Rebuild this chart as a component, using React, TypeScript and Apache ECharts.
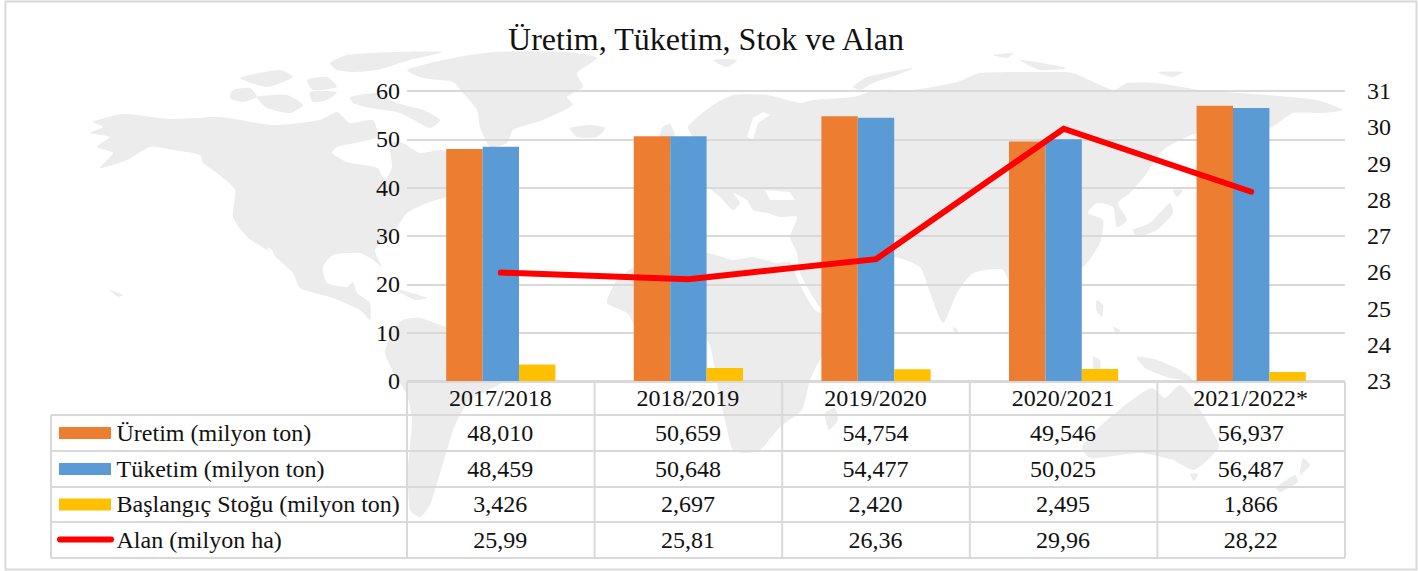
import React, { useEffect, useRef } from "react";
import * as echarts from "echarts";

const categories = ["2017/2018", "2018/2019", "2019/2020", "2020/2021", "2021/2022*"];
const uretim = [48.01, 50.659, 54.754, 49.546, 56.937];
const tuketim = [48.459, 50.648, 54.477, 50.025, 56.487];
const stok = [3.426, 2.697, 2.42, 2.495, 1.866];
const alan = [25.99, 25.81, 26.36, 29.96, 28.22];

const seriesNames = ["Üretim (milyon ton)", "Tüketim (milyon ton)", "Başlangıç Stoğu (milyon ton)", "Alan (milyon ha)"];
const title = "Üretim, Tüketim, Stok ve Alan";

const ORANGE = "#ED7D31";
const BLUE = "#5B9BD5";
const YELLOW = "#FFC000";
const RED = "#FF0000";
const LINE = "#D9D9D9";
const MAPC = "#ECECEC";
const FONT = "'Liberation Serif', 'Times New Roman', serif";

const colX = [407, 594.6, 782.2, 969.8, 1157.4, 1345];
const rowY = [382, 415, 451, 487, 522, 558];
const tableLeft = 51;

type P = [number, number];
const land: P[][] = [
  // North America
  [[93,122],[123,114],[170,119],[220,117],[273,125],[320,120],[337,112],[350,123],[373,120],[377,137],[337,147],[332,153],[347,162],[377,168],[385,180],[392,167],[390,143],[403,143],[420,153],[440,150],[455,155],[470,170],[480,190],[447,197],[427,203],[407,213],[393,233],[375,250],[382,267],[373,260],[360,253],[333,255],[323,267],[327,283],[347,287],[353,282],[357,293],[370,303],[370,320],[360,310],[333,298],[300,288],[293,273],[267,250],[247,237],[233,217],[235,190],[217,173],[203,163],[200,155],[173,150],[150,147],[127,160],[100,168],[113,153],[97,147],[110,137],[90,133],[103,127]],
  // Canadian arctic
  [[233,90],[250,88],[257,97],[243,102],[230,98]],
  [[257,97],[287,95],[303,105],[290,113],[267,108]],
  [[240,78],[280,70],[293,77],[267,87]],
  [[307,80],[327,77],[337,87],[313,90]],
  [[310,92],[337,92],[327,100],[313,102]],
  [[350,97],[377,93],[397,103],[423,110],[440,120],[430,128],[410,118],[397,112],[370,108],[353,103]],
  [[330,63],[347,55],[393,52],[443,52],[410,60],[377,70],[353,72],[337,70]],
  // Greenland
  [[407,70],[443,60],[493,52],[567,52],[597,58],[577,73],[583,87],[567,97],[573,105],[543,120],[513,130],[507,143],[490,147],[480,127],[477,110],[463,93],[453,82],[423,78]],
  // Iceland
  [[570,128],[590,125],[605,128],[597,137],[577,137]],
  // UK and Ireland
  [[662,128],[670,124],[676,140],[668,146],[660,140]],
  // South America
  [[385,353],[393,330],[403,320],[420,318],[446,327],[467,333],[497,350],[513,367],[505,381],[470,400],[455,425],[447,450],[438,480],[430,505],[420,517],[410,510],[408,470],[412,420],[407,395],[395,375]],
  // Africa
  [[607,303],[617,280],[633,268],[667,260],[707,253],[733,260],[753,257],[777,263],[790,262],[800,285],[815,310],[838,322],[825,350],[810,380],[802,410],[780,427],[760,450],[745,453],[733,450],[725,420],[717,383],[710,345],[700,335],[670,335],[640,333],[627,313]],
  [[825,413],[835,408],[838,420],[829,430]],
  // Eurasia
  [[688,127],[710,107],[733,95],[767,95],[800,103],[813,100],[853,97],[877,90],[913,90],[957,82],[980,73],[1047,72],[1073,73],[1113,90],[1127,83],[1157,83],[1200,90],[1267,95],[1317,100],[1343,110],[1323,113],[1293,113],[1270,128],[1235,130],[1197,133],[1167,147],[1157,157],[1147,173],[1130,193],[1118,203],[1127,220],[1117,227],[1113,207],[1097,203],[1088,213],[1103,220],[1100,243],[1083,267],[1060,273],[1048,300],[1020,307],[1003,270],[973,273],[957,293],[943,323],[928,287],[920,267],[895,257],[880,260],[847,307],[823,310],[800,273],[797,253],[790,237],[797,217],[780,217],[767,213],[753,210],[747,200],[733,193],[740,203],[733,210],[720,197],[708,188],[700,188],[700,160],[695,140]],
  // Japan and nearby islands
  [[1133,230],[1150,223],[1170,203],[1173,213],[1157,230],[1137,237]],
  [[1173,190],[1183,190],[1177,197]],
  [[853,87],[867,77],[913,68],[897,75],[873,83],[860,90]],
  [[713,60],[737,60],[727,67]],
  [[993,55],[1013,53],[1007,58]],
  [[1020,60],[1067,68],[1040,70]],
  [[1157,72],[1183,72],[1173,77]],
  [[393,288],[427,298],[415,300]],
  [[110,290],[123,295],[118,297]],
  [[953,327],[958,330],[955,335]],
  // South-east Asia and Oceania
  [[1097,300],[1103,305],[1102,317],[1096,310]],
  [[1113,327],[1120,330],[1117,335]],
  [[1093,357],[1100,360],[1100,377],[1094,372]],
  [[1137,357],[1157,360],[1180,370],[1193,380],[1170,378],[1145,368]],
  [[1082,447],[1107,420],[1136,397],[1152,388],[1165,398],[1180,385],[1194,400],[1210,427],[1219,447],[1194,470],[1173,460],[1140,453],[1090,458]],
  [[1190,474],[1198,474],[1194,481]],
  [[1303,458],[1310,465],[1300,475]],
  [[1295,475],[1298,482],[1280,492],[1276,488]],
];

const holes: P[][] = [
  [[747,137],[753,118],[763,112],[770,115],[758,123],[753,140]],
  [[267,247],[272,250],[284,277],[280,276]],
  [[765,190],[790,192],[795,200],[770,200]],
];

function App() {
  const ref = useRef<HTMLDivElement>(null);
  useEffect(() => {
    const chart = echarts.init(ref.current!, undefined, { renderer: "svg" });
    const graphic: any[] = [];
    land.forEach((points) =>
      graphic.push({ type: "polygon", z: -5, silent: true, shape: { points, smooth: 0.2 }, style: { fill: MAPC } })
    );
    holes.forEach((points) =>
      graphic.push({ type: "polygon", z: -4, silent: true, shape: { points }, style: { fill: "#FFFFFF" } })
    );
    graphic.push({
      type: "rect", z: -3, silent: true,
      shape: { x: 5.5, y: 1.5, width: 1411, height: 568 },
      style: { fill: "none", stroke: LINE, lineWidth: 2 },
    });
    const ln = (x1: number, y1: number, x2: number, y2: number) => ({
      type: "line", z: 1, silent: true,
      shape: { x1, y1, x2, y2 },
      style: { stroke: LINE, lineWidth: 2 },
    });
    rowY.forEach((y, i) => graphic.push(ln(i === 0 ? colX[0] : tableLeft, y, colX[5], y)));
    colX.forEach((x) => graphic.push(ln(x, rowY[0], x, rowY[5])));
    graphic.push(ln(tableLeft, rowY[1], tableLeft, rowY[5]));

    const txt = (text: string, x: number, y: number, align: string) => ({
      type: "text", z: 5, silent: true, x, y,
      style: { text, fill: "#111", font: `24px ${FONT}`, align, verticalAlign: "middle" },
    });
    const cy = (r: number) => (rowY[r] + rowY[r + 1]) / 2;
    const cx = (c: number) => (colX[c] + colX[c + 1]) / 2 - 0.5;
    categories.forEach((c, i) => graphic.push(txt(c, cx(i), cy(0) - 0.5, "center")));
    const rows = [
      uretim.map((v) => v.toFixed(3).replace(".", ",")),
      tuketim.map((v) => v.toFixed(3).replace(".", ",")),
      stok.map((v) => v.toFixed(3).replace(".", ",")),
      alan.map((v) => v.toFixed(2).replace(".", ",")),
    ];
    rows.forEach((row, r) => {
      graphic.push(txt(seriesNames[r], 116.5, cy(r + 1) - 0.5, "left"));
      row.forEach((s, c) => graphic.push(txt(s, cx(c), cy(r + 1) - 0.5, "center")));
    });
    [ORANGE, BLUE, YELLOW].forEach((fill, r) =>
      graphic.push({
        type: "rect", z: 5, silent: true,
        shape: { x: 59, y: cy(r + 1) - 6, width: 52, height: 12 },
        style: { fill },
      })
    );
    graphic.push({
      type: "line", z: 5, silent: true,
      shape: { x1: 60, y1: cy(4) - 0.5, x2: 111, y2: cy(4) - 0.5 },
      style: { stroke: RED, lineWidth: 6, lineCap: "round" },
    });

    const bar = (name: string, data: number[], color: string) => ({
      name, type: "bar", data, barWidth: 36.4, barGap: 0, z: 2,
      itemStyle: { color },
    });
    chart.setOption({
      animation: false,
      backgroundColor: "#fff",
      title: {
        text: title, left: 701, top: 18, textAlign: "center",
        textStyle: { fontFamily: FONT, fontSize: 32, fontWeight: "normal", color: "#111" },
      },
      grid: { left: 407, right: 73, top: 91, bottom: 190 },
      xAxis: {
        type: "category", data: categories,
        axisLine: { show: false }, axisTick: { show: false }, axisLabel: { show: false },
      },
      yAxis: [
        {
          type: "value", min: 0, max: 60, interval: 10,
          axisLine: { show: false }, axisTick: { show: false },
          splitLine: { show: true, lineStyle: { color: LINE, width: 2 } },
          axisLabel: { margin: 7, fontFamily: FONT, fontSize: 24, color: "#111" },
        },
        {
          type: "value", min: 23, max: 31, interval: 1,
          axisLine: { show: false }, axisTick: { show: false },
          splitLine: { show: false },
          axisLabel: { margin: 22, fontFamily: FONT, fontSize: 24, color: "#111" },
        },
      ],
      series: [
        bar(seriesNames[0], uretim, ORANGE),
        bar(seriesNames[1], tuketim, BLUE),
        bar(seriesNames[2], stok, YELLOW),
        {
          name: seriesNames[3], type: "line", yAxisIndex: 1, data: alan, z: 4,
          showSymbol: false, symbol: "none",
          lineStyle: { color: RED, width: 6, cap: "round", join: "miter" },
        },
      ],
      graphic: { elements: graphic },
    });
    return () => chart.dispose();
  }, []);
  return <div ref={ref} style={{ position: "fixed", left: 0, top: 0, width: 1418, height: 571 }} />;
}

export default App;
